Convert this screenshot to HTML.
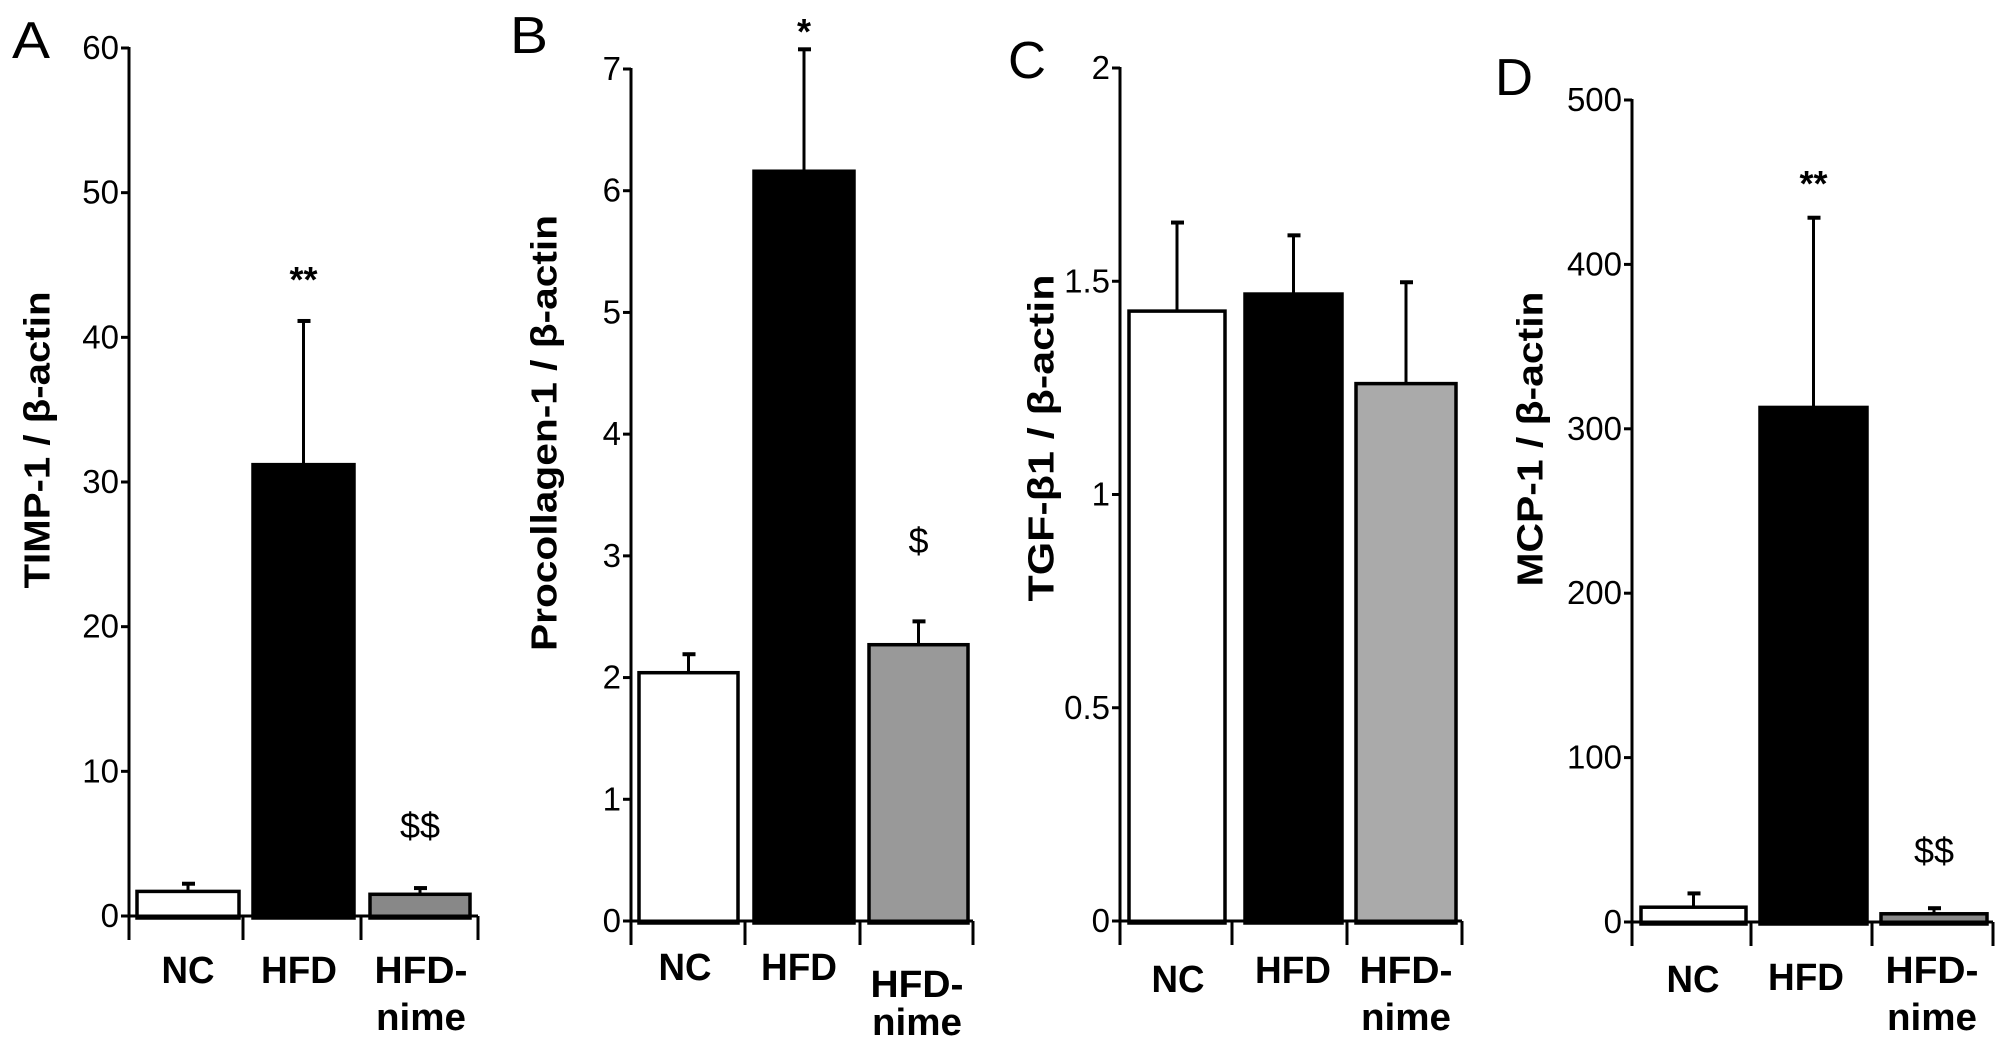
<!DOCTYPE html>
<html><head><meta charset="utf-8"><style>
html,body{margin:0;padding:0;background:#fff}
svg{display:block;font-family:"Liberation Sans",Arial,sans-serif}
</style></head><body>
<svg id="fig" width="2008" height="1049" viewBox="0 0 2008 1049" xmlns="http://www.w3.org/2000/svg"></svg>
<script>
const categories = ["NC","HFD","HFD-nime"];
const aValues = [1.7, 31.2, 1.5];
const aErrors = [0.6, 10.0, 0.5];
const aTicks = [0,10,20,30,40,50,60];
const bValues = [2.04, 6.16, 2.27];
const bErrors = [0.16, 1.01, 0.2];
const bTicks = [0,1,2,3,4,5,6,7];
const cValues = [1.43, 1.47, 1.26];
const cErrors = [0.21, 0.14, 0.24];
const cTicks = ["0","0.5","1","1.5","2"];
const dValues = [9, 313, 5];
const dErrors = [9, 116, 4];
const dTicks = [0,100,200,300,400,500];

const NS = "http://www.w3.org/2000/svg";
const svg = document.getElementById("fig");
function mk(tag, attrs, parent, text){
  const e = document.createElementNS(NS, tag);
  for (const k in attrs) e.setAttribute(k, attrs[k]);
  if (text !== undefined) e.textContent = text;
  (parent || svg).appendChild(e);
  return e;
}

const panels = [
  {id:"a", letter:"A", lx:31, ly:58, title:"TIMP-1 / β-actin", tx:40, ty:440, tl:297,
   ax:129, y0:916, yTop:48, max:60, values:aValues, errors:aErrors, ticks:aTicks,
   xTicks:[129,243,361,478], bars:[[137,239],[253,354],[370,470]],
   fills:["#fff","#000","#888"], labX:[188,299,421], labY:[983,983,983], nimeY:1030,
   marks:[null,{t:"**",y:292,bold:true},{t:"$$",y:838}]},
  {id:"b", letter:"B", lx:529, ly:53, title:"Procollagen-1 / β-actin", tx:547, ty:433, tl:436,
   ax:631, y0:921, yTop:69, max:7, values:bValues, errors:bErrors, ticks:bTicks,
   xTicks:[631,745,860,973], bars:[[639,738],[754,854],[869,968]],
   fills:["#fff","#000","#999"], labX:[685,799,917], labY:[980,980,997], nimeY:1035,
   marks:[null,{t:"*",y:44,bold:true},{t:"$",y:553}]},
  {id:"c", letter:"C", lx:1027, ly:78, title:"TGF-β1 / β-actin", tx:1044, ty:438, tl:327,
   ax:1120, y0:921, yTop:68, max:2, values:cValues, errors:cErrors, ticks:cTicks,
   xTicks:[1120,1232,1347,1462], bars:[[1129,1225],[1245,1342],[1356,1456]],
   fills:["#fff","#000","#aaa"], labX:[1178,1293,1406], labY:[992,983,983], nimeY:1030,
   marks:[null,null,null]},
  {id:"d", letter:"D", lx:1514, ly:95, title:"MCP-1 / β-actin", tx:1533, ty:439, tl:295,
   ax:1632, y0:922, yTop:100, max:500, values:dValues, errors:dErrors, ticks:dTicks,
   xTicks:[1632,1751,1872,1993], bars:[[1641,1746],[1760,1867],[1881,1987]],
   fills:["#fff","#000","#888"], labX:[1693,1806,1932], labY:[992,990,983], nimeY:1030,
   marks:[null,{t:"**",y:196,bold:true},{t:"$$",y:863}]}
];
const labLen = {"NC":53, "HFD":76, "HFD-":93, "nime":90};

panels.forEach(p => {
  const g = mk("g", {});
  
  
  const yS = v => p.y0 - (parseFloat(v) / p.max) * (p.y0 - p.yTop);
  const lt = mk("text", {x:p.lx, y:p.ly, "font-size":52, "text-anchor":"middle", textLength:38, lengthAdjust:"spacingAndGlyphs"}, g, p.letter);
  
  
  const yt = mk("text", {x:p.tx, y:p.ty, "font-size":36, "font-weight":"bold", "text-anchor":"middle",
    textLength:p.tl, lengthAdjust:"spacingAndGlyphs",
    transform:`rotate(-90 ${p.tx} ${p.ty})`, "dominant-baseline":"middle"}, g, p.title);
  
  
  p.values.forEach((v, i) => {
    const [x1, x2] = p.bars[i];
    const top = yS(v), e = yS(v + p.errors[i]), cx = (x1 + x2) / 2;
    const el = mk("line", {x1:cx, x2:cx, y1:e, y2:top, stroke:"#000", "stroke-width":3}, g);
    
    
    const cap = mk("line", {x1:cx - 6, x2:cx + 7, y1:e + 1, y2:e + 1, stroke:"#000", "stroke-width":4}, g);
    
    
    const r = mk("rect", {x:x1, y:top, width:x2 - x1, height:Math.max(p.y0 + 2 - top, 1),
      fill:p.fills[i], stroke:"#000", "stroke-width":3.5}, g);
    
    
    const m = p.marks[i];
    if (m) {
      const mt = mk("text", {x:cx, y:m.y, "font-size":36, "font-weight":m.bold ? "bold" : "normal",
        "text-anchor":"middle"}, g, m.t);
      
      
    }
    const lx = p.labX[i];
    if (categories[i] === "HFD-nime") {
      const t1 = mk("text", {x:lx, y:p.labY[i], "font-size":38, "font-weight":"bold", "text-anchor":"middle",
        textLength:labLen["HFD-"], lengthAdjust:"spacingAndGlyphs"}, g, "HFD-");
      
      
      const t2 = mk("text", {x:lx, y:p.nimeY, "font-size":38, "font-weight":"bold", "text-anchor":"middle",
        textLength:labLen["nime"], lengthAdjust:"spacingAndGlyphs"}, g, "nime");
      
      
    } else {
      const t = mk("text", {x:lx, y:p.labY[i], "font-size":38, "font-weight":"bold", "text-anchor":"middle",
        textLength:labLen[categories[i]], lengthAdjust:"spacingAndGlyphs"}, g, categories[i]);
      
      
    }
  });
  const ya = mk("line", {x1:p.ax, x2:p.ax, y1:p.yTop - 1, y2:p.y0 + 3, stroke:"#000", "stroke-width":3}, g);
  
  
  const xa = mk("line", {x1:p.ax - 8, x2:p.xTicks[3], y1:p.y0, y2:p.y0, stroke:"#000", "stroke-width":3}, g);
  
  
  p.xTicks.forEach((x, k) => {
    const t = mk("line", {x1:x, x2:x, y1:p.y0, y2:p.y0 + 24, stroke:"#000", "stroke-width":3}, g);
    
    
  });
  p.ticks.forEach(v => {
    const y = yS(v);
    const t = mk("line", {x1:p.ax - 8, x2:p.ax, y1:y, y2:y, stroke:"#000", "stroke-width":3}, g);
    
    
    const l = mk("text", {x:p.ax - 10, y:y + 11, "font-size":33, "text-anchor":"end"}, g, String(v));
    
    
  });
});
</script>
</body></html>
